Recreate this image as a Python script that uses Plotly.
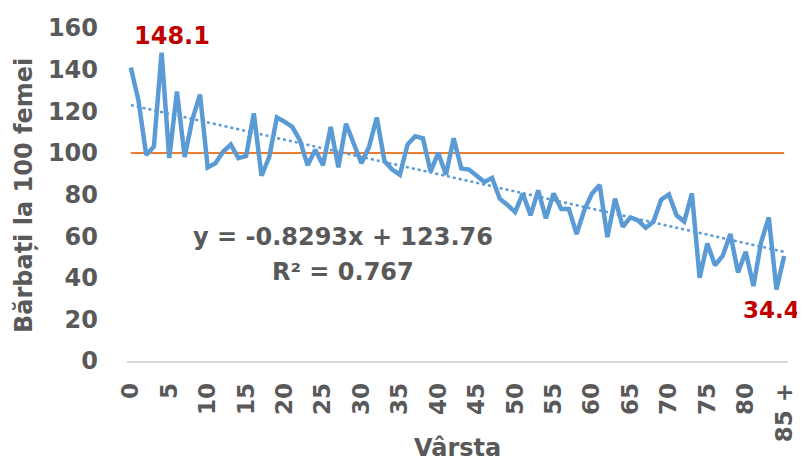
import plotly.graph_objects as go

ages = list(range(0, 86))
tick_vals = list(range(0, 86, 5))
tick_text = [str(v) for v in range(0, 85, 5)] + ["85 +"]

ratio = [141, 125, 99, 103, 148.1, 97.5, 129.5, 98, 116, 128,
         93, 95, 100.5, 104, 97.5, 98.5, 119, 89, 98, 117,
         115, 112.5, 106, 94, 101.5, 94, 112.5, 93, 114, 105,
         95, 103, 117, 96, 92, 89.5, 104, 108, 107, 91,
         100, 89.5, 107, 92.5, 92, 89, 86, 88, 78, 75,
         71.5, 80.5, 70, 82, 68.5, 80.5, 73, 73, 61, 72.5,
         80.5, 84.5, 59.5, 78, 64.5, 69, 67.5, 64, 67, 77.5,
         80, 70, 67, 80.5, 40, 56.5, 46, 50.5, 61, 42.5,
         52.5, 36, 57, 69, 34.4, 50.5]

parity = [100] * len(ages)
slope = -0.8293
intercept = 123.76
trend = [slope * (a + 1) + intercept for a in ages]

FONT = "DejaVu Sans"
GRAY = "#595959"
RED = "#C00000"

fig = go.Figure()
fig.add_trace(go.Scatter(x=ages, y=parity, mode="lines",
                         line=dict(color="#ED7D31", width=2), hoverinfo="skip"))
fig.add_trace(go.Scatter(x=ages, y=trend, mode="lines",
                         line=dict(color="#5B9BD5", width=2.5, dash="dot"), hoverinfo="skip"))
fig.add_trace(go.Scatter(x=ages, y=ratio, mode="lines",
                         line=dict(color="#5B9BD5", width=4.5)))

imax = ratio.index(max(ratio))
imin = ratio.index(min(ratio))
fig.add_annotation(x=ages[imax], y=ratio[imax], text="<b>148.1</b>", showarrow=False,
                   xanchor="center", yanchor="middle",
                   xshift=10, yshift=17, font=dict(family=FONT, size=24, color=RED))
fig.add_annotation(x=ages[imin], y=ratio[imin], text="<b>34.4</b>", showarrow=False,
                   xanchor="center", yanchor="middle",
                   xshift=-5, yshift=-21, font=dict(family=FONT, size=23, color=RED))
fig.add_annotation(xref="paper", yref="paper", x=0.327, y=0.372,
                   xanchor="center", yanchor="middle",
                   text="<b>y = -0.8293x + 123.76</b>", showarrow=False,
                   font=dict(family=FONT, size=24, color=GRAY))
fig.add_annotation(xref="paper", yref="paper", x=0.327, y=0.267,
                   xanchor="center", yanchor="middle",
                   text="<b>R² = 0.767</b>", showarrow=False,
                   font=dict(family=FONT, size=24, color=GRAY))
fig.add_annotation(xref="paper", yref="paper", x=0.5, y=-0.262,
                   xanchor="center", yanchor="middle",
                   text="<b>Vârsta</b>", showarrow=False,
                   font=dict(family=FONT, size=24, color=GRAY))
fig.add_annotation(xref="paper", yref="paper", x=-0.156, y=0.498, textangle=-90,
                   xanchor="center", yanchor="middle",
                   text="<b>Bărbați la 100 femei</b>", showarrow=False,
                   font=dict(family=FONT, size=24, color=GRAY))

# page body has an 8px margin, so the figure is drawn 8px smaller and offset
fig.update_layout(
    width=797, height=453,
    margin=dict(l=119, r=17, t=20, b=100, autoexpand=False),
    paper_bgcolor="white", plot_bgcolor="white",
    showlegend=False,
    xaxis=dict(range=[-0.5, 85.5], tickmode="array", tickvals=tick_vals, ticktext=tick_text,
               tickangle=-90, showgrid=False, zeroline=False, automargin=False,
               showline=True, linecolor="#D9D9D9", linewidth=1.5,
               ticks="", ticklabelstandoff=11,
               tickfont=dict(family=FONT, size=23, color=GRAY, weight="bold")),
    yaxis=dict(range=[0, 160], tickvals=list(range(0, 161, 20)), showgrid=False,
               zeroline=False, showline=False, ticks="", ticklabelstandoff=28,
               automargin=False,
               tickfont=dict(family=FONT, size=24, color=GRAY, weight="bold")),
)

fig.write_html("out.html")
